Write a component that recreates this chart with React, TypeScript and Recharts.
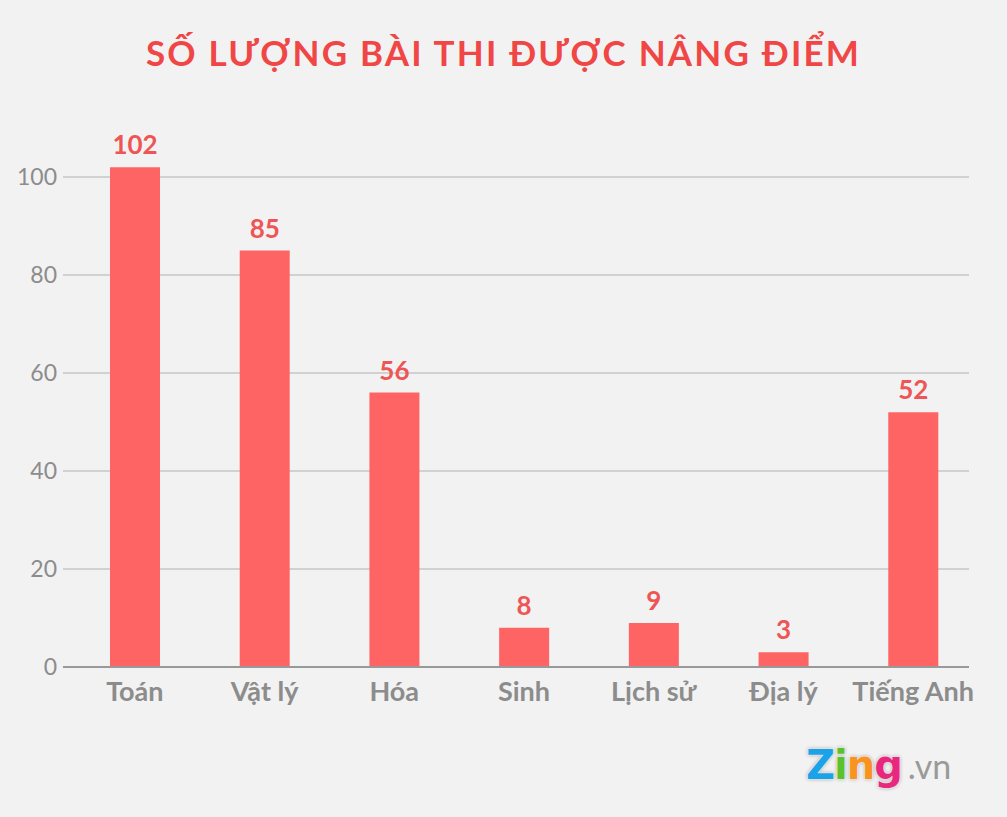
import React from "react";
import { BarChart, Bar, XAxis, YAxis, CartesianGrid, LabelList } from "recharts";

const SUBJECTS = ["Toán", "Vật lý", "Hóa", "Sinh", "Lịch sử", "Địa lý", "Tiếng Anh"];
const COUNTS = [102, 85, 56, 8, 9, 3, 52];
const Y_TICKS = [0, 20, 40, 60, 80, 100];

const data = SUBJECTS.map((name, i) => ({ name, value: COUNTS[i] }));

const BAR = "#ff6464";
const LABEL_RED = "#ee5555";
const GRAY = "#8c8c8c";
const FONT = "Lato, 'Open Sans', sans-serif";

function ZingLogo() {
  const letters = [
    { ch: "Z", color: "#1aa3e8" },
    { ch: "i", color: "#5cc22b" },
    { ch: "n", color: "#f7931e" },
    { ch: "g", color: "#e8287d" },
  ];
  return (
    <div
      style={{
        position: "absolute",
        left: 806,
        top: 742,
        fontFamily: "'DejaVu Sans', sans-serif",
        fontWeight: 900,
        fontSize: 40,
        lineHeight: "46px",
        display: "flex",
        alignItems: "baseline",
      }}
    >
      {letters.map((l) => (
        <span
          key={l.ch}
          style={{
            color: l.color,
            WebkitTextStroke: "1.5px #ffffff",
            paintOrder: "stroke fill",
            textShadow: "0 0 1px #fff, 0 0 2px #fff, 0 0 3px #aaa, 0 0 4px #bbb",
            letterSpacing: -1,
          }}
        >
          {l.ch}
        </span>
      ))}
      <span style={{ color: "#9a9a9a", fontFamily: FONT, fontWeight: 400, fontSize: 34, marginLeft: 6 }}>.vn</span>
    </div>
  );
}

export default function App() {
  return (
    <div style={{ position: "relative", width: 1007, height: 817, background: "#f2f2f2", overflow: "hidden" }}>
      <style>{`body{margin:0}`}</style>
      <div
        style={{
          position: "absolute",
          top: 35,
          left: 0,
          width: 1007,
          textAlign: "center",
          fontFamily: FONT,
          fontWeight: 700,
          fontSize: 35,
          lineHeight: "34px",
          letterSpacing: 2.2,
          color: "#f04646",
        }}
      >
        SỐ LƯỢNG BÀI THI ĐƯỢC NÂNG ĐIỂM
      </div>
      <BarChart
        width={1007}
        height={817}
        data={data}
        margin={{ top: 128, right: 38, bottom: 120, left: 0 }}
      >
        <CartesianGrid vertical={false} horizontalValues={Y_TICKS} stroke="#b0b0b0" strokeWidth={1} />
        <XAxis
          dataKey="name"
          axisLine={{ stroke: "#999999", strokeWidth: 2 }}
          tickLine={false}
          tickMargin={9}
          interval={0}
          padding={{ left: 7, right: -9 }}
          tick={{ fill: GRAY, fontSize: 27, fontWeight: 700, fontFamily: FONT }}
        />
        <YAxis
          width={63}
          domain={[0, 110]}
          ticks={Y_TICKS}
          axisLine={false}
          tickLine={false}
          tickMargin={0}
          tick={{ fill: GRAY, fontSize: 23, fontFamily: FONT }}
        />
        <Bar dataKey="value" fill={BAR} barSize={50} isAnimationActive={false}>
          <LabelList
            dataKey="value"
            position="top"
            offset={13}
            fill={LABEL_RED}
            style={{ fontSize: 26, fontWeight: 700, fontFamily: FONT }}
          />
        </Bar>
      </BarChart>
      <ZingLogo />
    </div>
  );
}
